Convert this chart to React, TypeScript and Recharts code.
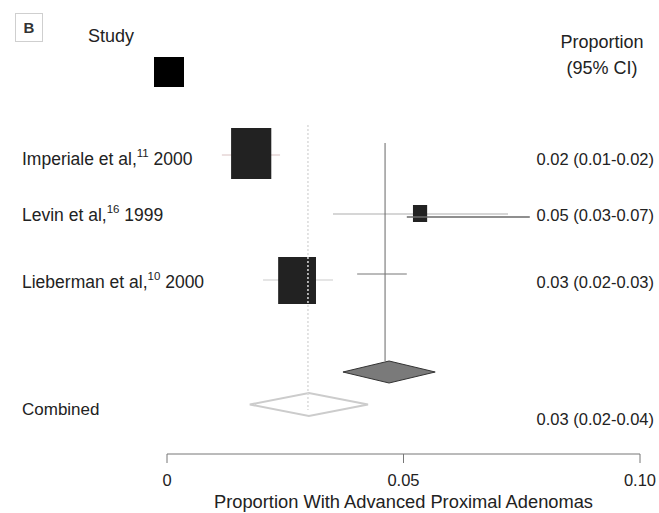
import React from 'react';
import { ComposedChart, XAxis, YAxis, ReferenceArea, ReferenceLine, Scatter } from 'recharts';

// ---- data ----
const studyNames = ['Imperiale et al,', 'Levin et al,', 'Lieberman et al,'];
const studyRefs = ['11', '16', '10'];
const studyYears = ['2000', '1999', '2000'];
const estimates = [0.0178, 0.0535, 0.0275];
const ciLow = [0.0116, 0.0351, 0.0203];
const ciHigh = [0.0239, 0.0721, 0.0351];
const boxWidths = [0.0085, 0.003, 0.008];
const boxHeights = [5.1, 1.7, 4.7];
const rowPos = [15.35, 21.35, 28.05];
const ciRowPos = [15.5, 21.4, 28.0];
const labelRowPos = [15.9, 21.5, 28.2];
const valueTexts = ['0.02 (0.01-0.02)', '0.05 (0.03-0.07)', '0.03 (0.02-0.03)'];
const ciColors = ['#e6d6d6', '#c8c8c8', '#dddddd'];

const combinedName = 'Combined';
const combinedEstimate = 0.0298;
const combinedLow = 0.0175;
const combinedHigh = 0.0425;
const combinedRowTop = 39.3;
const combinedRowBottom = 41.6;
const combinedLabelRow = 40.9;
const combinedValueRow = 41.9;
const combinedValueText = '0.03 (0.02-0.04)';

// overlay elements seen in the figure
const levinDarkLow = 0.0507;
const levinDarkHigh = 0.0767;
const levinDarkRow = 21.7;
const refLineX = 0.0461;
const refLineTop = 14.3;
const refLineBottom = 36.1;
const crossLow = 0.0402;
const crossHigh = 0.0507;
const crossRow = 27.4;
const greyDiamondLow = 0.0372;
const greyDiamondHigh = 0.0567;
const greyDiamondTop = 36.1;
const greyDiamondBottom = 38.3;
const dottedTop = 12.5;
const dottedBottom = 41.0;
const legendSquareX = [-0.00275, 0.00359];
const legendSquareY = [5.7, 8.7];

const xTicks = [0, 0.05, 0.1];
const xTickLabels = ['0', '0.05', '0.10'];
const yDomain = [0, 45.4];
const LINE_HALF = 0.075; // half thickness of thin CI strokes, in row units

const FONT = '"Liberation Sans", Arial, Helvetica, sans-serif';
const TEXT = '#222222';

const labelRows = studyNames.map((n, i) => ({
  x: estimates[i],
  y: labelRowPos[i],
  name: n,
  ref: studyRefs[i],
  year: studyYears[i],
  value: valueTexts[i],
}));

const Diamond = (fill: string, stroke: string, sw: number) => (p: any) => {
  const { x, y, width, height } = p;
  const pts = [
    [x, y + height / 2],
    [x + width / 2, y],
    [x + width, y + height / 2],
    [x + width / 2, y + height],
  ]
    .map((q) => q.join(','))
    .join(' ');
  return <polygon points={pts} fill={fill} stroke={stroke} strokeWidth={sw} />;
};

const RowText = (p: any) => {
  const { cy, payload } = p;
  return (
    <g fontFamily={FONT} fill={TEXT}>
      <text x={22} y={cy} dy="0.36em" fontSize={17.5}>
        {payload.name}
        <tspan fontSize={11.5} dy="-0.7em">{payload.ref}</tspan>
        <tspan fontSize={17.5} dy="0.46em"> {payload.year}</tspan>
      </text>
      <text x={654} y={cy} dy="0.36em" fontSize={16.5} textAnchor="end">
        {payload.value}
      </text>
    </g>
  );
};

const CombinedText = (p: any) => {
  const { cy, payload } = p;
  return (
    <text x={payload.anchor === 'end' ? 654 : 22} y={cy} dy="0.36em" fontSize={payload.anchor === 'end' ? 16.5 : 17}
      textAnchor={payload.anchor} fontFamily={FONT} fill={TEXT}>
      {payload.text}
    </text>
  );
};

const combinedTexts = [
  { x: combinedEstimate, y: combinedLabelRow, text: combinedName, anchor: 'start' },
  { x: combinedEstimate, y: combinedValueRow, text: combinedValueText, anchor: 'end' },
];

export default function App() {
  return (
    <div style={{ position: 'absolute', left: 0, top: 0, width: 659, height: 513, background: '#fff' }}>
      <ComposedChart width={659} height={513} margin={{ top: 0, right: 19, bottom: 0, left: 167 }}>
        <XAxis
          type="number"
          dataKey="x"
          domain={[0, 0.1]}
          ticks={xTicks}
          tickFormatter={(v: number) => xTickLabels[xTicks.indexOf(v)] ?? String(v)}
          height={59}
          stroke="#777"
          tickSize={9}
          tickMargin={11}
          tick={{ fill: TEXT, fontSize: 16.5, fontFamily: FONT }}
          interval={0}
        />
        <YAxis type="number" dataKey="y" domain={yDomain} reversed hide />

        {/* legend square */}
        <ReferenceArea x1={legendSquareX[0]} x2={legendSquareX[1]} y1={legendSquareY[0]} y2={legendSquareY[1]}
          fill="#000" fillOpacity={1} stroke="none" ifOverflow="visible" />

        {/* faint CI lines (behind boxes) */}
        {estimates.map((_, i) => (
          <ReferenceArea key={'ci' + i} x1={ciLow[i]} x2={ciHigh[i]}
            y1={ciRowPos[i] - LINE_HALF} y2={ciRowPos[i] + LINE_HALF}
            fill={ciColors[i]} fillOpacity={1} stroke="none" ifOverflow="visible" />
        ))}

        {/* study boxes */}
        {estimates.map((e, i) => (
          <ReferenceArea key={'b' + i} x1={e - boxWidths[i] / 2} x2={e + boxWidths[i] / 2}
            y1={rowPos[i] - boxHeights[i] / 2} y2={rowPos[i] + boxHeights[i] / 2}
            fill="#222" fillOpacity={1} stroke="none" ifOverflow="visible" />
        ))}

        {/* Levin dark line */}
        <ReferenceLine segment={[{ x: levinDarkLow, y: levinDarkRow }, { x: levinDarkHigh, y: levinDarkRow }]} stroke="#6a6a6a" strokeWidth={1.5} />

        {/* vertical reference line and cross */}
        <ReferenceLine segment={[{ x: refLineX, y: refLineTop }, { x: refLineX, y: refLineBottom }]} stroke="#666" strokeWidth={1} />
        <ReferenceLine segment={[{ x: crossLow, y: crossRow }, { x: crossHigh, y: crossRow }]} stroke="#777" strokeWidth={1} />

        {/* grey diamond */}
        <ReferenceArea x1={greyDiamondLow} x2={greyDiamondHigh} y1={greyDiamondTop} y2={greyDiamondBottom}
          shape={Diamond('#7a7a7a', '#333', 1)} ifOverflow="visible" />

        {/* combined diamond */}
        <ReferenceArea x1={combinedLow} x2={combinedHigh} y1={combinedRowTop} y2={combinedRowBottom}
          shape={Diamond('#fff', '#cccccc', 2)} ifOverflow="visible" />

        {/* dotted combined line */}
        <ReferenceLine segment={[{ x: combinedEstimate, y: dottedTop }, { x: combinedEstimate, y: dottedBottom }]}
          stroke="#dadada" strokeWidth={1.5} strokeDasharray="2 2" />

        <Scatter data={labelRows} dataKey="y" shape={RowText} isAnimationActive={false} />
        <Scatter data={combinedTexts} dataKey="y" shape={CombinedText} isAnimationActive={false} />
      </ComposedChart>

      {/* headers */}
      <div style={{ position: 'absolute', left: 15, top: 13, width: 26, height: 27, border: '1.5px solid #cfcfcf',
        fontFamily: FONT, fontSize: 15, fontWeight: 'bold', color: '#333', display: 'flex', alignItems: 'center', justifyContent: 'center' }}>B</div>
      <div style={{ position: 'absolute', left: 88, top: 26, fontFamily: FONT, fontSize: 18, color: TEXT, lineHeight: '20px' }}>Study</div>
      <div style={{ position: 'absolute', left: 540, width: 124, top: 29, fontFamily: FONT, fontSize: 18, color: TEXT,
        lineHeight: '26px', textAlign: 'center' }}>
        Proportion<br />(95% CI)
      </div>
      <div style={{ position: 'absolute', left: 167, width: 473, top: 491, fontFamily: FONT, fontSize: 18.3, color: TEXT,
        lineHeight: '22px', textAlign: 'center' }}>
        Proportion With Advanced Proximal Adenomas
      </div>
    </div>
  );
}
